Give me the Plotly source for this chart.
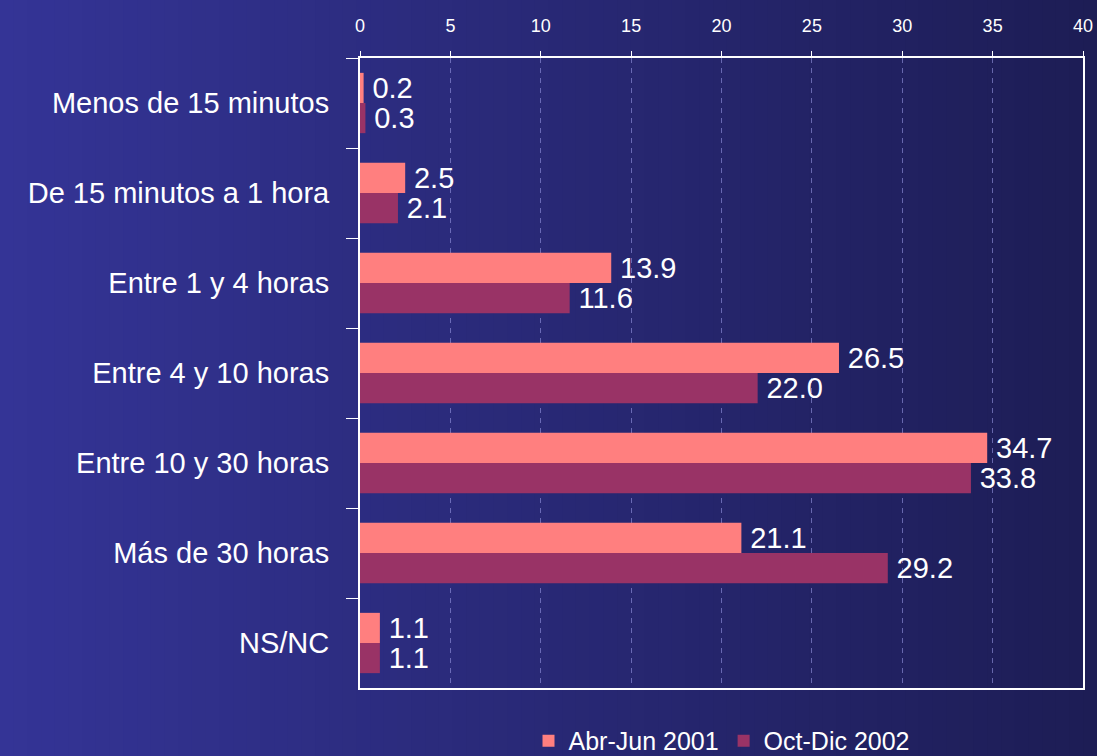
import plotly.graph_objects as go

categories = ["Menos de 15 minutos", "De 15 minutos a 1 hora", "Entre 1 y 4 horas",
              "Entre 4 y 10 horas", "Entre 10 y 30 horas", "Más de 30 horas", "NS/NC"]
abr_jun_2001 = [0.2, 2.5, 13.9, 26.5, 34.7, 21.1, 1.1]
oct_dic_2002 = [0.3, 2.1, 11.6, 22.0, 33.8, 29.2, 1.1]
series_names = ["Abr-Jun 2001", "Oct-Dic 2002"]
x_ticks = [0, 5, 10, 15, 20, 25, 30, 35, 40]

W, H = 1097, 756
ml, mr, mt, mb = 360, 14, 58, 68
pw, ph = W - ml - mr, H - mt - mb

fig = go.Figure()
label_font = dict(family="Liberation Sans, Arial, sans-serif", size=29, color="white")
for name, vals, col in [(series_names[0], abr_jun_2001, "#FF7F7F"),
                        (series_names[1], oct_dic_2002, "#993366")]:
    fig.add_trace(go.Bar(
        y=categories, x=vals, name=name, orientation="h",
        marker=dict(color=col, line=dict(width=0)),
        text=["\u2009" + f"{v:.1f}" for v in vals], textposition="outside",
        textfont=label_font, cliponaxis=False, constraintext="none",
    ))

# gradient background (left lighter -> right darker)
shapes = []
n = 80
c0 = (0x34, 0x34, 0x96)
c1 = (0x1d, 0x1d, 0x55)
x_left = -ml / pw
x_right = 1 + mr / pw
for i in range(n):
    t = i / (n - 1)
    c = tuple(int(round(c0[k] + (c1[k] - c0[k]) * t)) for k in range(3))
    xa = x_left + (x_right - x_left) * i / n
    xb = x_left + (x_right - x_left) * (i + 1) / n + 0.002
    shapes.append(dict(type="rect", xref="paper", yref="paper",
                       x0=xa, x1=xb, y0=-mb / ph - 0.01, y1=1 + mt / ph + 0.01,
                       fillcolor="rgb(%d,%d,%d)" % c, line=dict(width=0), layer="below"))

fig.update_layout(
    width=W, height=H,
    margin=dict(l=ml, r=mr, t=mt, b=mb, autoexpand=False),
    paper_bgcolor="#2a2a7a", plot_bgcolor="rgba(0,0,0,0)",
    barmode="group", bargap=0.33, bargroupgap=0,
    shapes=shapes,
    font=dict(family="Liberation Sans, Arial, sans-serif", color="white"),
    showlegend=True,
    legend=dict(orientation="h", x=0.5, xanchor="center", y=-0.084, yanchor="middle",
                font=dict(size=25, color="white"), bgcolor="rgba(0,0,0,0)",
                itemwidth=30, tracegroupgap=0),
    xaxis=dict(side="top", range=[0, 40], tickvals=x_ticks, ticks="outside", ticklen=5,
               tickcolor="white", tickwidth=1,
               tickfont=dict(family="Liberation Sans Narrow, Arial Narrow, Liberation Sans, sans-serif",
                             size=18, color="white"),
               showgrid=True, gridcolor="rgba(150,150,225,0.6)", griddash="5px,5px", gridwidth=1,
               showline=True, linecolor="white", linewidth=2, mirror=True,
               zeroline=False, ticklabelstandoff=12),
    yaxis=dict(autorange="reversed", categoryorder="array", categoryarray=categories,
               ticks="outside", ticklen=12, tickcolor="white", tickson="boundaries",
               tickfont=dict(size=29, color="white"),
               showline=True, linecolor="white", linewidth=2, mirror=True,
               showgrid=False, ticklabelstandoff=23),
)

fig.write_html("out.html", config={"displayModeBar": False})
with open("out.html", "r", encoding="utf-8") as f:
    html = f.read()
html = html.replace("<body>", '<body style="margin:0;padding:0;overflow:hidden">', 1)
with open("out.html", "w", encoding="utf-8") as f:
    f.write(html)
